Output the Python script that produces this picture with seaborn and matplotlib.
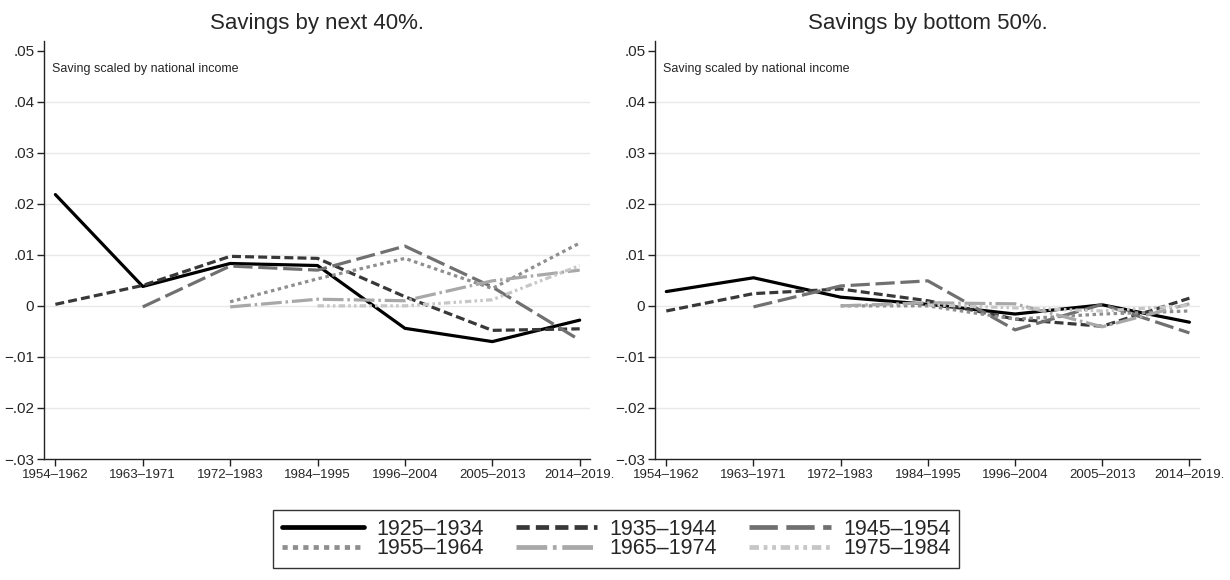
import numpy as np
import pandas as pd
import matplotlib
matplotlib.use("Agg")
import matplotlib.pyplot as plt
import seaborn as sns

periods = ["1954–1962", "1963–1971", "1972–1983", "1984–1995",
           "1996–2004", "2005–2013", "2014–2019."]
cohorts = ["1925–1934", "1935–1944", "1945–1954",
           "1955–1964", "1965–1974", "1975–1984"]

nan = np.nan
# Savings by next 40%
next40_1925 = [0.0218, 0.0038, 0.0083, 0.0079, -0.0044, -0.0070, -0.0028]
next40_1935 = [0.0003, 0.0040, 0.0097, 0.0093, 0.0018, -0.0048, -0.0045]
next40_1945 = [nan, -0.0002, 0.0078, 0.0070, 0.0117, 0.0037, -0.0067]
next40_1955 = [nan, nan, 0.0008, 0.0053, 0.0093, 0.0034, 0.0123]
next40_1965 = [nan, nan, -0.0002, 0.0013, 0.0010, 0.0049, 0.0070]
next40_1975 = [nan, nan, nan, 0.0000, 0.0000, 0.0012, 0.0079]

# Savings by bottom 50%
bot50_1925 = [0.0028, 0.0055, 0.0017, 0.0003, -0.0016, 0.0002, -0.0032]
bot50_1935 = [-0.0010, 0.0024, 0.0033, 0.0010, -0.0026, -0.0040, 0.0015]
bot50_1945 = [nan, -0.0002, 0.0039, 0.0049, -0.0047, 0.0003, -0.0053]
bot50_1955 = [nan, nan, 0.0000, 0.0000, -0.0026, -0.0016, -0.0010]
bot50_1965 = [nan, nan, 0.0000, 0.0006, 0.0004, -0.0041, 0.0004]
bot50_1975 = [nan, nan, nan, 0.0002, -0.0004, -0.0010, 0.0001]

yticks = [-0.03, -0.02, -0.01, 0.0, 0.01, 0.02, 0.03, 0.04, 0.05]
ytick_labels = ["−.03", "−.02", "−.01", "0", ".01", ".02", ".03", ".04", ".05"]

sns.set_style("white")
plt.rcParams["font.family"] = ["Liberation Sans", "DejaVu Sans"]

colors = {"1925–1934": "#000000", "1935–1944": "#383838", "1945–1954": "#707070",
          "1955–1964": "#8e8e8e", "1965–1974": "#a8a8a8", "1975–1984": "#c6c6c6"}
dashes = {"1925–1934": "", "1935–1944": (2.8, 1.3), "1945–1954": (6.0, 1.8),
          "1955–1964": (1.1, 1.1), "1965–1974": (6.5, 1.2, 0.8, 1.2),
          "1975–1984": (2.0, 1.0, 0.8, 1.0, 0.8, 1.0)}


def long_df(series):
    rows = []
    for coh, vals in zip(cohorts, series):
        for i, v in enumerate(vals):
            rows.append({"period": i, "cohort": coh, "value": v})
    return pd.DataFrame(rows).dropna()


df_next = long_df([next40_1925, next40_1935, next40_1945,
                   next40_1955, next40_1965, next40_1975])
df_bot = long_df([bot50_1925, bot50_1935, bot50_1945,
                  bot50_1955, bot50_1965, bot50_1975])

fig = plt.figure(figsize=(12.3, 5.8), dpi=100)
ax1 = fig.add_axes([0.0358, 0.2086, 0.444, 0.720])
ax2 = fig.add_axes([0.5325, 0.2086, 0.443, 0.720])

for ax, df, title in [(ax1, df_next, "Savings by next 40%."),
                      (ax2, df_bot, "Savings by bottom 50%.")]:
    sns.lineplot(data=df, x="period", y="value", hue="cohort", style="cohort",
                 hue_order=cohorts, style_order=cohorts, palette=colors,
                 dashes=dashes, linewidth=2.3, ax=ax, legend=(ax is ax1),
                 sort=True, estimator=None)
    ax.set_xlim(-0.13, 6.12)
    ax.set_ylim(-0.03, 0.0518)
    ax.set_xticks(range(len(periods)))
    ax.set_xticklabels(periods, fontsize=9.5)
    ax.set_yticks(yticks)
    ax.set_yticklabels(ytick_labels, fontsize=11)
    ax.set_xlabel("")
    ax.set_ylabel("")
    ax.set_title(title, fontsize=16, pad=9)
    for s in ["top", "right"]:
        ax.spines[s].set_visible(False)
    for s in ["left", "bottom"]:
        ax.spines[s].set_color("#222222")
        ax.spines[s].set_linewidth(1.0)
    ax.tick_params(axis="both", which="major", direction="out", length=5,
                   width=1.0, color="#222222", pad=2, left=True, bottom=True)
    ax.grid(axis="y", color="#e8e8e8", linewidth=1.0)
    ax.set_axisbelow(True)
    gl = ax.yaxis.get_gridlines()
    gl[0].set_visible(False)
    gl[-1].set_visible(False)
    ax.text(0.015, 0.935, "Saving scaled by national income", fontsize=9,
            transform=ax.transAxes, va="center", ha="left")

handles, labels = ax1.get_legend_handles_labels()
ax1.get_legend().remove()
hmap = dict(zip(labels, handles))
order = ["1925–1934", "1955–1964", "1935–1944", "1965–1974", "1945–1954", "1975–1984"]
leg = fig.legend([hmap[o] for o in order], order, ncol=3, loc="lower center",
                 bbox_to_anchor=(0.501, 0.002), fontsize=15.5, frameon=True,
                 fancybox=False, edgecolor="black", handlelength=3.8,
                 handletextpad=0.56, columnspacing=1.5, labelspacing=-0.05,
                 borderpad=0.4)
leg.get_frame().set_linewidth(1.0)
for line in leg.get_lines():
    line.set_linewidth(3.4)

fig.savefig("out.png", dpi=100)
